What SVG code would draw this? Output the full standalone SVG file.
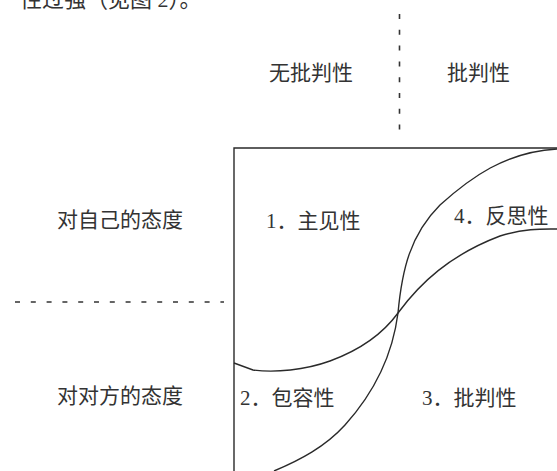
<svg xmlns="http://www.w3.org/2000/svg" width="557" height="471" viewBox="0 0 557 471">
<style>
.t{font-family:"Liberation Serif","Noto Sans CJK SC",serif;font-size:21px;fill:#333}
.ln{fill:none;stroke:#2a2a2a;stroke-width:1.4}
.dash{fill:none;stroke:#333;stroke-width:1.6;stroke-dasharray:5 10.8}
</style>
<rect width="557" height="471" fill="#fff"/>
<text class="t" x="20" y="7" style="font-size:22px">性过强（见图 2）。</text>
<g id="axis-labels">
<text class="t" x="269" y="80">无批判性</text>
<text class="t" x="447" y="80">批判性</text>
<text class="t" x="57" y="227">对自己的态度</text>
<text class="t" x="57" y="403">对对方的态度</text>
</g>
<g id="dividers">
<line class="dash" x1="399.5" y1="14" x2="399.5" y2="130"/>
<line class="dash" x1="15" y1="302" x2="224" y2="302"/>
</g>
<g id="frame">
<path class="ln" d="M234,471 V148 H557"/>
</g>
<g id="connectors">
<path class="ln" d="M274,471 C300,460 325,447 345,425 C372,395 392,360 398,313 C402,270 410,235 440,205 C470,178 505,152 557,149"/>
<path class="ln" d="M234,363 L253,370 C275,373 305,370 330,361 C360,350 382,335 398,313 C420,283 450,255 500,236 C525,228 545,229 557,229"/>
</g>
<g id="q1"><text class="t" x="266" y="228">1．主见性</text></g>
<g id="q4"><text class="t" x="454" y="223">4．反思性</text></g>
<g id="q2"><text class="t" x="240" y="405">2．包容性</text></g>
<g id="q3"><text class="t" x="422" y="405">3．批判性</text></g>
</svg>
